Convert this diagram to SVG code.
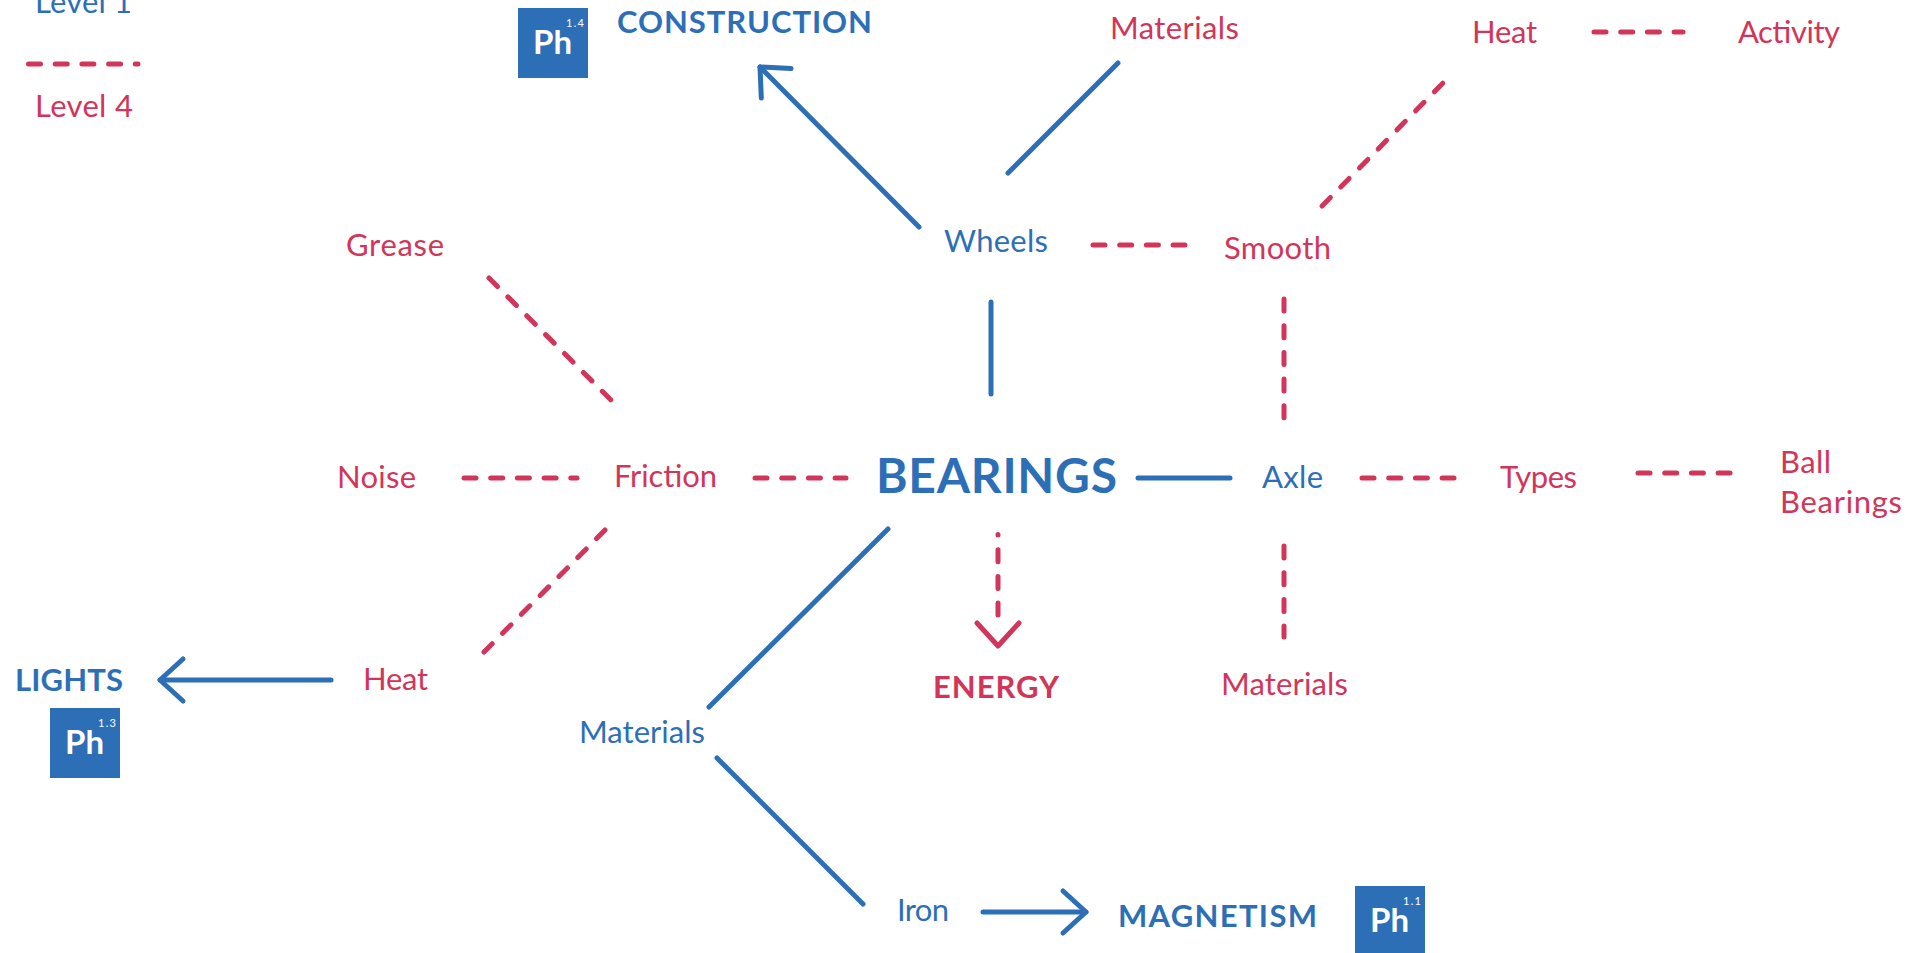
<svg xmlns="http://www.w3.org/2000/svg" width="1922" height="953" viewBox="0 0 1922 953">
<style>
text{font-family:Lato,"Liberation Sans",sans-serif;}
.b{fill:#2D6FB7;}
.r{fill:#D1365A;}
.t{font-size:31px;}
.h{font-size:31px;font-weight:bold;}
.big{font-size:48px;font-weight:bold;}
.ph{fill:#2D6FB7;}
.pht{fill:#fff;font-size:33px;font-weight:bold;}
.sup{fill:#fff;font-size:11px;}
.sb{stroke:#2D6FB7;stroke-width:5;stroke-linecap:round;fill:none;}
.dr{stroke:#D1365A;stroke-width:5;stroke-linecap:round;fill:none;stroke-dasharray:12 14.7;}
.hr{stroke:#D1365A;stroke-width:5;stroke-linecap:round;stroke-linejoin:round;fill:none;}
</style>
<defs>
<marker id="ab" markerUnits="userSpaceOnUse" orient="auto" refX="0" refY="0" markerWidth="60" markerHeight="60" viewBox="-40 -30 60 60" overflow="visible">
<path d="M-23,-21 L0,0 L-23,21" stroke="#2D6FB7" stroke-width="5" stroke-linecap="round" stroke-linejoin="round" fill="none"/>
</marker>
</defs>
<rect width="1922" height="953" fill="#fff"/>
<g id="connectors">
<line class="sb" x1="919" y1="227" x2="760" y2="67" marker-end="url(#ab)"/>
<line class="sb" x1="1008" y1="173" x2="1118" y2="63"/>
<line class="sb" x1="991" y1="302" x2="991" y2="394"/>
<line class="sb" x1="1138" y1="478" x2="1230" y2="478"/>
<line class="sb" x1="888" y1="529" x2="709" y2="707"/>
<line class="sb" x1="717" y1="758" x2="863" y2="904"/>
<line class="sb" x1="331" y1="680" x2="160" y2="680" marker-end="url(#ab)"/>
<line class="sb" x1="983" y1="912" x2="1086" y2="912" marker-end="url(#ab)"/>
<line class="dr" x1="28.5" y1="64" x2="138" y2="64"/>
<line class="dr" x1="1594" y1="32" x2="1683" y2="32"/>
<line class="dr" x1="1322" y1="206" x2="1445" y2="81"/>
<line class="dr" x1="1093" y1="245" x2="1185" y2="245"/>
<line class="dr" x1="1284" y1="299" x2="1284" y2="419"/>
<line class="dr" x1="1362" y1="478" x2="1454" y2="478"/>
<line class="dr" x1="1638" y1="473" x2="1730" y2="473"/>
<line class="dr" x1="1284" y1="546" x2="1284" y2="637"/>
<line class="dr" x1="998" y1="534.5" x2="998" y2="616" stroke-dashoffset="11.5"/>
<path class="hr" d="M977,623 L998,646 L1019,623"/>
<line class="dr" x1="755" y1="478" x2="846" y2="478"/>
<line class="dr" x1="464" y1="478" x2="577" y2="478"/>
<line class="dr" x1="489" y1="278" x2="612" y2="401"/>
<line class="dr" x1="605" y1="530" x2="484" y2="652"/>
</g>
<g id="legend">
<text class="b t" x="35" y="13" textLength="97">Level 1</text>
<text class="r t" x="35" y="117" textLength="98">Level 4</text>
</g>
<g id="construction">
<text class="b h" x="617" y="33" textLength="255">CONSTRUCTION</text>
<rect class="ph" x="518" y="8" width="70" height="70"/>
<text class="pht" x="533" y="54" textLength="39">Ph</text>
<text class="sup" x="566" y="27" textLength="18">1.4</text>
</g>
<g id="materials-top"><text class="r t" x="1110" y="39" textLength="129">Materials</text></g>
<g id="heat-top"><text class="r t" x="1472" y="43" textLength="65">Heat</text></g>
<g id="activity"><text class="r t" x="1738" y="43" textLength="102">Activity</text></g>
<g id="wheels"><text class="b t" x="944" y="252" textLength="104">Wheels</text></g>
<g id="smooth"><text class="r t" x="1224" y="259" textLength="107">Smooth</text></g>
<g id="grease"><text class="r t" x="346" y="256" textLength="98">Grease</text></g>
<g id="noise"><text class="r t" x="337" y="488" textLength="79">Noise</text></g>
<g id="friction"><text class="r t" x="614" y="487" textLength="103">Friction</text></g>
<g id="bearings"><text class="b big" x="876" y="493" textLength="241">BEARINGS</text></g>
<g id="axle"><text class="b t" x="1262" y="488" textLength="61">Axle</text></g>
<g id="types"><text class="r t" x="1500" y="488" textLength="77">Types</text></g>
<g id="ball-bearings">
<text class="r t" x="1780" y="473" textLength="51">Ball</text>
<text class="r t" x="1780" y="513" textLength="122">Bearings</text>
</g>
<g id="energy"><text class="r h" x="933" y="698" textLength="126">ENERGY</text></g>
<g id="materials-axle"><text class="r t" x="1221" y="695" textLength="127">Materials</text></g>
<g id="heat-left"><text class="r t" x="363" y="690" textLength="65">Heat</text></g>
<g id="lights">
<text class="b h" x="15" y="691" textLength="108">LIGHTS</text>
<rect class="ph" x="50" y="708" width="70" height="70"/>
<text class="pht" x="65" y="754" textLength="39">Ph</text>
<text class="sup" x="98" y="727" textLength="18">1.3</text>
</g>
<g id="materials-blue"><text class="b t" x="579" y="743" textLength="126">Materials</text></g>
<g id="iron"><text class="b t" x="897" y="921" textLength="52">Iron</text></g>
<g id="magnetism">
<text class="b h" x="1118" y="927" textLength="199">MAGNETISM</text>
<rect class="ph" x="1355" y="886" width="70" height="70"/>
<text class="pht" x="1370" y="932" textLength="39">Ph</text>
<text class="sup" x="1403" y="905" textLength="18">1.1</text>
</g>
</svg>
